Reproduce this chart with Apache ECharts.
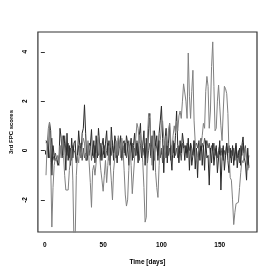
<!DOCTYPE html>
<html><head><meta charset="utf-8">
<script src="https://cdn.jsdelivr.net/npm/echarts@6/dist/echarts.min.js"></script>
<style>html,body{margin:0;padding:0;background:#fff}#c{width:273px;height:273px}</style>
</head><body><div id="c"></div>
<script>
var xTicks = [0, 50, 100, 150];
var yTicks = [-2, 0, 2, 4];
var firstDay = 1;
var seriesA = [
-1.0, 0.3, 0.9, 1.15, -0.5, -3.1, -1.5, -0.6, -0.3, -0.4,
-0.2, -0.5, 0.2, -0.3, 0.6, -0.2, -1.0, -1.6, -1.55, -1.6,
-0.8, -0.3, 0.1, -1.2, -3.8, -3.6, -1.0, -0.2, -0.5, 0.1,
-0.3, 0.2, 0.5, 0.3, -0.4, -0.2, 0.4, -0.5, -1.3, -2.3,
-0.8, -0.6, -1.0, -0.5, 0.3, 0.6, -0.2, -0.8, -1.2, -1.65,
-1.0, -0.4, -1.3, -0.6, 0.2, -0.5, -1.2, -2.0, -0.8, -0.3,
0.4, -0.2, 0.6, 0.3, -0.3, 0.5, 0.1, -0.8, -1.8, -2.25,
-2.0, -0.8, 0.2, -0.6, -1.75, -1.7, -0.3, 0.5, 1.1, 0.9,
0.3, 0.7, 0.2, -0.5, -1.5, -2.9, -2.7, 0.5, 1.5, 1.3,
0.2, -0.6, 0.8, 0.3, -0.9, -1.5, -1.9, -0.6, 0.4, 1.0,
1.2, 0.5, -0.3, 0.6, 0.2, 0.8, 1.1, 0.4, -0.2, 0.6,
1.0, 0.7, 1.2, 0.8, 1.4, 1.6, 1.3, 2.0, 2.7, 2.75,
2.0, 1.3, 3.95, 2.2, 1.3, 2.4, 3.25, 1.2, 0.3, -0.4,
-0.2, 0.1, 0.4, 0.2, 0.6, 1.1, 0.9, 2.4, 3.0, 2.6,
0.9, 1.6, 3.4, 4.4, 2.6, 0.8, 0.9, 2.0, 2.65, 1.8,
1.0, 0.4, 1.6, 2.6, 2.5, 2.3, 1.5, -0.2, -1.1, -1.2,
-2.0, -3.0, -2.5, -2.15, -2.1, -2.1, -1.5, -0.9, -0.4, -0.5,
-0.2, 0.1, -0.5, -0.8, -0.6
];
var seriesB = [
0.4, 0.3, -0.3, 1.15, 0.8, -1.0, 0.2, -0.2, -0.4, -0.3,
-0.5, -0.6, 0.9, 0.5, -0.2, 0.6, 0.3, -0.8, 0.7, -0.4,
0.2, -0.6, 0.5, -0.3, 0.3, 0.4, -0.5, -0.2, 0.8, 0.2,
-0.3, 0.7, 0.9, 1.85, 0.7, -0.4, -0.1, 0.3, 0.2, 0.85,
-0.2, 0.4, -0.5, 0.6, -0.3, 0.9, 0.85, -0.4, 0.2, 0.5,
-0.3, 0.3, 0.8, -0.2, 0.4, -0.6, 0.95, 0.2, -0.4, 0.6,
0.3, -0.5, 0.5, 0.1, 0.6, -0.3, 0.3, 0.4, -0.2, 0.6,
0.3, -0.6, 0.1, 0.5, -0.4, 0.2, 0.7, -0.2, 0.3, -0.5,
0.6, 1.1, -0.3, 0.2, 0.8, -0.6, 0.5, -0.3, 0.9, 1.5,
-0.2, 0.6, -0.8, 0.8, 0.2, 0.6, -0.4, 0.7, 1.2, 1.8,
0.5, -0.9, 0.4, 0.9, -0.5, 0.3, 1.1, -0.2, -0.8, 0.4,
-0.3, 0.6, 1.6, 0.2, -0.5, 0.4, -0.1, 0.7, 0.3, -0.4,
0.2, -0.3, 0.5, -0.8, 0.3, -0.6, -0.2, 0.4, -0.75, 0.1,
-1.1, 0.3, -0.4, 0.5, -0.6, 0.2, -0.8, 0.4, -0.3, -0.2,
-1.4, 0.1, -0.5, 0.3, -0.6, -0.1, 0.2, -0.9, -0.3, 0.4,
-1.6, -0.3, 0.2, -0.8, -0.2, 0.3, -0.4, -0.9, 0.1, -0.5,
0.2, -0.6, -0.1, 0.3, -0.7, -0.2, 0.1, -0.6, 0.2, 0.55,
-0.3, -0.5, -1.2, 0.1, -0.7
];
var seriesC = [
0.3, 0.4, 0.1, -0.3, 0.2, 0.5, -0.2, -0.4, -0.1, -0.3,
-0.6, -0.3, -0.1, 0.2, -0.3, 0.1, 0.6, 0.0, -0.2, 0.3,
-0.3, 0.1, -0.4, 0.2, 0.0, -0.1, -0.5, -0.3, 0.2, -0.2,
0.3, -0.4, 0.1, -0.3, -0.1, -0.4, 0.2, -0.2, 0.3, -0.4,
0.0, -0.3, 0.2, -0.1, 0.4, -0.2, -0.1, 0.3, -0.4, 0.1,
0.2, -0.3, 0.0, 0.3, -0.4, 0.1, -0.2, 0.4, -0.1, 0.2,
-0.3, 0.1, -0.2, 0.3, 0.0, -0.4, 0.2, -0.1, 0.3, -0.3,
0.1, 0.4, -0.2, 0.0, 0.3, -0.3, 0.1, -0.2, 0.4, 0.0,
-0.4, 0.2, 0.4, -0.2, 0.1, -0.3, 0.3, -0.5, 0.0, 0.3,
-0.3, 0.2, 0.0, -0.4, 0.3, 0.1, -0.2, 0.4, -0.3, 0.1,
-0.5, 0.2, 0.0, -0.3, 0.3, -0.2, 0.1, -0.4, 0.2, -0.1,
0.3, -0.2, 0.1, -0.3, 0.2, 0.0, -0.4, 0.3, 0.1, 0.2,
-0.1, 0.3, 0.2, 0.0, 0.3, 0.1, -0.2, 0.4, 0.2, 0.3,
0.1, 0.4, 0.2, 0.0, 0.3, 0.1, 0.5, 0.2, 0.4, 0.1,
0.3, -0.1, 0.2, 0.0, 0.3, -0.2, 0.1, -0.3, 0.0, 0.2,
-0.2, 0.1, -0.4, 0.0, -0.2, 0.3, -0.1, 0.2, -0.3, 0.0,
-0.2, 0.1, -0.4, 0.2, -0.3, 0.0, -0.5, 0.2, -0.2, 0.3,
-0.1, 0.2, -0.3, -0.6, -0.2
];
var xTitle = 'Time [days]';
var yTitle = '3rd FPC scores';

function toPairs(arr) { return arr.map(function (v, i) { return [firstDay + i, v]; }); }
var FONT = 'Liberation Sans, Arial, sans-serif';
var chart = echarts.init(document.getElementById('c'), null, {renderer: 'canvas'});
chart.setOption({
  animation: false,
  backgroundColor: '#fff',
  grid: {left: 32, top: 32, right: 16, bottom: 41, show: true, borderColor: '#333', borderWidth: 1.2, backgroundColor: 'transparent'},
  xAxis: {
    type: 'value', min: -5.96, max: 181.96,
    splitLine: {show: false}, axisLine: {show: false},
    axisTick: {show: true, length: 4, inside: false, customValues: xTicks, lineStyle: {color: '#333'}},
    axisLabel: {customValues: xTicks, margin: 10, fontSize: 6.5, fontWeight: 'bold', color: '#000', fontFamily: FONT},
    name: xTitle, nameLocation: 'middle', nameGap: 27,
    nameTextStyle: {fontSize: 6.5, fontWeight: 'bold', color: '#000', fontFamily: FONT}
  },
  yAxis: {
    type: 'value', min: -3.3, max: 4.8,
    splitLine: {show: false}, axisLine: {show: false},
    axisTick: {show: true, length: 4, inside: false, customValues: yTicks, lineStyle: {color: '#333'}},
    axisLabel: {customValues: yTicks, rotate: 90, margin: 9, fontSize: 6.5, fontWeight: 'bold', color: '#000', fontFamily: FONT},
    name: yTitle, nameLocation: 'middle', nameGap: 15, nameRotate: 90,
    nameTextStyle: {fontSize: 6, fontWeight: 'bold', color: '#000', fontFamily: FONT}
  },
  series: [
    {type: 'line', data: toPairs(seriesC), showSymbol: false, symbol: 'none', clip: true, lineStyle: {color: '#555', width: 1}},
    {type: 'line', data: toPairs(seriesB), showSymbol: false, symbol: 'none', clip: true, lineStyle: {color: '#2a2a2a', width: 1}},
    {type: 'line', data: toPairs(seriesA), showSymbol: false, symbol: 'none', clip: true, lineStyle: {color: '#808080', width: 1}}
  ]
});
</script></body></html>
